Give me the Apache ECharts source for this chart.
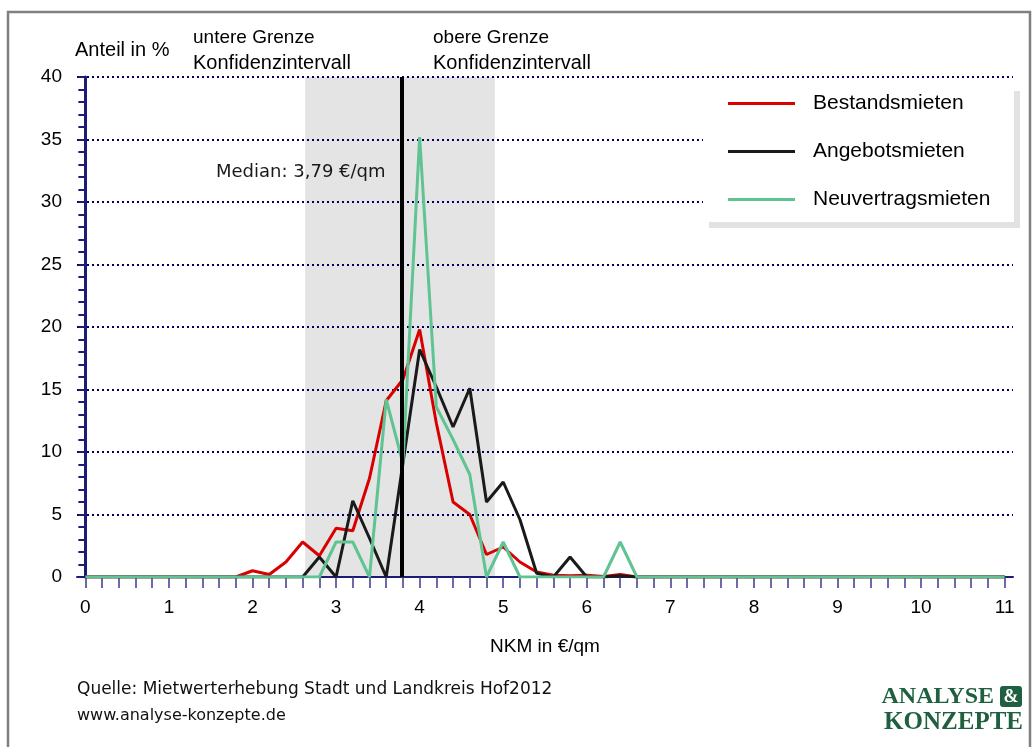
<!DOCTYPE html>
<html>
<head>
<meta charset="utf-8">
<title>NKM Verteilung</title>
<script src="https://cdn.jsdelivr.net/npm/echarts@6/dist/echarts.min.js"></script>
<style>
    html, body { margin: 0; padding: 0; background: #fff; }
    #chart { width: 1035px; height: 747px; }
</style>
</head>
<body>
<div id="chart"></div>
<script>
// NKM-Klassen in €/qm (Schrittweite 0,2)
const nkm = [
    '0,0', '0,2', '0,4', '0,6', '0,8', '1,0', '1,2', '1,4', '1,6', '1,8',
    '2,0', '2,2', '2,4', '2,6', '2,8', '3,0', '3,2', '3,4', '3,6', '3,8',
    '4,0', '4,2', '4,4', '4,6', '4,8', '5,0', '5,2', '5,4', '5,6', '5,8',
    '6,0', '6,2', '6,4', '6,6', '6,8', '7,0', '7,2', '7,4', '7,6', '7,8',
    '8,0', '8,2', '8,4', '8,6', '8,8', '9,0', '9,2', '9,4', '9,6', '9,8',
    '10,0', '10,2', '10,4', '10,6', '10,8', '11,0',
]
const xLabels = ['0', '1', '2', '3', '4', '5', '6', '7', '8', '9', '10', '11']

const bestandsmieten = [
    0, 0, 0, 0, 0, 0, 0, 0, 0, 0,
    0.5, 0.2, 1.2, 2.8, 1.7, 3.9, 3.7, 7.9, 14.1, 15.8,
    19.8, 12.3, 6.0, 5.0, 1.8, 2.4, 1.2, 0.4, 0.15, 0.1,
    0.15, 0.05, 0.2, 0, 0, 0, 0, 0, 0, 0,
    0, 0, 0, 0, 0, 0, 0, 0, 0, 0,
    0, 0, 0, 0, 0, 0,
]
const angebotsmieten = [
    0, 0, 0, 0, 0, 0, 0, 0, 0, 0,
    0, 0, 0, 0, 1.6, 0, 6.1, 3.1, 0, 9.1,
    18.2, 15.2, 12.0, 15.1, 6.0, 7.6, 4.6, 0.3, 0, 1.6,
    0, 0, 0.1, 0, 0, 0, 0, 0, 0, 0,
    0, 0, 0, 0, 0, 0, 0, 0, 0, 0,
    0, 0, 0, 0, 0, 0,
]
const neuvertragsmieten = [
    0, 0, 0, 0, 0, 0, 0, 0, 0, 0,
    0, 0, 0, 0, 0, 2.8, 2.8, 0, 14.2, 9.1,
    35.2, 13.6, 11.0, 8.2, 0, 2.8, 0, 0, 0, 0,
    0, 0, 2.8, 0, 0, 0, 0, 0, 0, 0,
    0, 0, 0, 0, 0, 0, 0, 0, 0, 0,
    0, 0, 0, 0, 0, 0,
]
const median = 3.79
const konfidenz = [2.63, 4.9]

const navy = '#1c1c78'
const sans = "'Liberation Sans', Arial, sans-serif"
const verdana = "'DejaVu Sans', Verdana, sans-serif"

let chart = echarts.init(document.getElementById('chart'))
chart.setOption({
    animation: false,
    backgroundColor: '#fff',
    grid: {
        left: 77,
        right: 22,
        top: 77,
        bottom: 170,
    },
    legend: {
        orient: 'vertical',
        left: 723,
        top: 88,
        z: 10,
        icon: 'rect',
        itemWidth: 67,
        itemHeight: 3,
        itemGap: 27,
        textStyle: {
            fontFamily: sans,
            fontSize: 21,
            color: '#000',
            padding: [0, 0, 0, 13],
        },
        data: ['Bestandsmieten', 'Angebotsmieten', 'Neuvertragsmieten'],
    },
    xAxis: [{
        type: 'category',
        data: nkm,
        boundaryGap: true,
        z: 1,
        name: 'NKM in €/qm',
        nameLocation: 'middle',
        nameGap: 60,
        nameTextStyle: { fontFamily: sans, fontSize: 19, color: '#000' },
        axisLine: { show: true, lineStyle: { color: navy, width: 2 } },
        axisTick: {
            show: true,
            alignWithLabel: true,
            interval: 0,
            length: 11,
            lineStyle: { color: '#3b3b8c', width: 1.5 },
        },
        axisLabel: {
            interval: 0,
            margin: 21,
            fontFamily: sans,
            fontSize: 19,
            color: '#000',
            formatter: (value, index) => (index % 5 === 0 ? xLabels[index / 5] : ''),
        },
        splitLine: { show: false },
    }, {
        // Hilfsachse für Median und Konfidenzintervall
        type: 'value',
        min: -0.1,
        max: 11.1,
        show: false,
    }],
    yAxis: {
        type: 'value',
        min: 0,
        max: 40,
        interval: 5,
        z: 1,
        axisLine: { show: true, lineStyle: { color: navy, width: 3 } },
        axisTick: { show: true, length: 7, lineStyle: { color: navy, width: 2 } },
        minorTick: { show: true, splitNumber: 5, length: 7, lineStyle: { color: navy, width: 2 } },
        axisLabel: { margin: 15, fontFamily: sans, fontSize: 19, color: '#000' },
        splitLine: {
            lineStyle: { color: '#00005e', width: 2, type: [2, 3] },
        },
    },
    graphic: [
        {
            type: 'rect',
            z: 0,
            silent: true,
            shape: { x: 8, y: 12, width: 1022, height: 760 },
            style: { fill: 'none', stroke: '#808080', lineWidth: 2.5 },
        },
        // Legendenkasten mit Schatten
        {
            type: 'rect',
            z: 8,
            shape: { x: 709, y: 91, width: 311, height: 137 },
            style: { fill: '#e2e2e2' },
        },
        {
            type: 'rect',
            z: 9,
            shape: { x: 703, y: 85, width: 311, height: 137 },
            style: { fill: '#fff' },
        },
        {
            type: 'text', x: 75, y: 50,
            style: { text: 'Anteil in %', font: '20px ' + sans, fill: '#000', verticalAlign: 'middle' },
        },
        {
            type: 'text', x: 193, y: 38,
            style: { text: 'untere Grenze', font: '19px ' + sans, fill: '#000', verticalAlign: 'middle' },
        },
        {
            type: 'text', x: 193, y: 63,
            style: { text: 'Konfidenzintervall', font: '20px ' + sans, fill: '#000', verticalAlign: 'middle' },
        },
        {
            type: 'text', x: 433, y: 38,
            style: { text: 'obere Grenze', font: '19px ' + sans, fill: '#000', verticalAlign: 'middle' },
        },
        {
            type: 'text', x: 433, y: 63,
            style: { text: 'Konfidenzintervall', font: '20px ' + sans, fill: '#000', verticalAlign: 'middle' },
        },
        {
            type: 'text', x: 216, y: 172, z: 5,
            style: { text: 'Median: 3,79 €/qm', font: '18px ' + verdana, fill: '#1a1a1a', verticalAlign: 'middle' },
        },
        {
            type: 'text', x: 77, y: 690,
            style: { text: 'Quelle: Mietwerterhebung Stadt und Landkreis Hof2012', font: '17px ' + verdana, fill: '#111', verticalAlign: 'middle' },
        },
        {
            type: 'text', x: 77, y: 716,
            style: { text: 'www.analyse-konzepte.de', font: '16px ' + verdana, fill: '#111', verticalAlign: 'middle' },
        },
        // Logo
        {
            type: 'text', x: 994, y: 697,
            style: {
                text: 'ANALYSE',
                font: 'bold 24px "Liberation Serif", serif',
                fill: '#1f6040',
                align: 'right',
                verticalAlign: 'middle',
            },
        },
        {
            type: 'rect',
            shape: { x: 1000, y: 686, width: 22, height: 21, r: 3 },
            style: { fill: '#1f6040' },
        },
        {
            type: 'text', x: 1011, y: 697,
            style: {
                text: '&',
                font: 'bold 18px "Liberation Serif", serif',
                fill: '#fff',
                align: 'center',
                verticalAlign: 'middle',
            },
        },
        {
            type: 'text', x: 1023, y: 723,
            style: {
                text: 'KONZEPTE',
                font: 'bold 25px "Liberation Serif", serif',
                fill: '#1f6040',
                align: 'right',
                verticalAlign: 'middle',
            },
        },
    ],
    series: [
        {
            name: 'Konfidenzintervall',
            type: 'line',
            xAxisIndex: 1,
            data: [],
            z: 0,
            silent: true,
            markArea: {
                z: 0,
                silent: true,
                itemStyle: { color: '#e4e4e4' },
                data: [[{ xAxis: konfidenz[0] }, { xAxis: konfidenz[1] }]],
            },
        },
        {
            name: 'Bestandsmieten',
            type: 'line',
            data: bestandsmieten,
            color: '#d90000',
            symbol: 'none',
            lineStyle: { width: 3 },
            z: 2,
        },
        {
            name: 'Angebotsmieten',
            type: 'line',
            data: angebotsmieten,
            color: '#1a1a1a',
            symbol: 'none',
            lineStyle: { width: 3 },
            z: 2,
        },
        {
            name: 'Neuvertragsmieten',
            type: 'line',
            data: neuvertragsmieten,
            color: '#5fc392',
            symbol: 'none',
            lineStyle: { width: 3 },
            z: 2,
        },
        {
            name: 'Median',
            type: 'line',
            xAxisIndex: 1,
            data: [],
            z: 3,
            silent: true,
            markLine: {
                z: 3,
                silent: true,
                symbol: 'none',
                label: { show: false },
                lineStyle: { color: '#000', width: 4, type: 'solid' },
                data: [{ xAxis: median }],
            },
        },
    ],
})
</script>
</body>
</html>
